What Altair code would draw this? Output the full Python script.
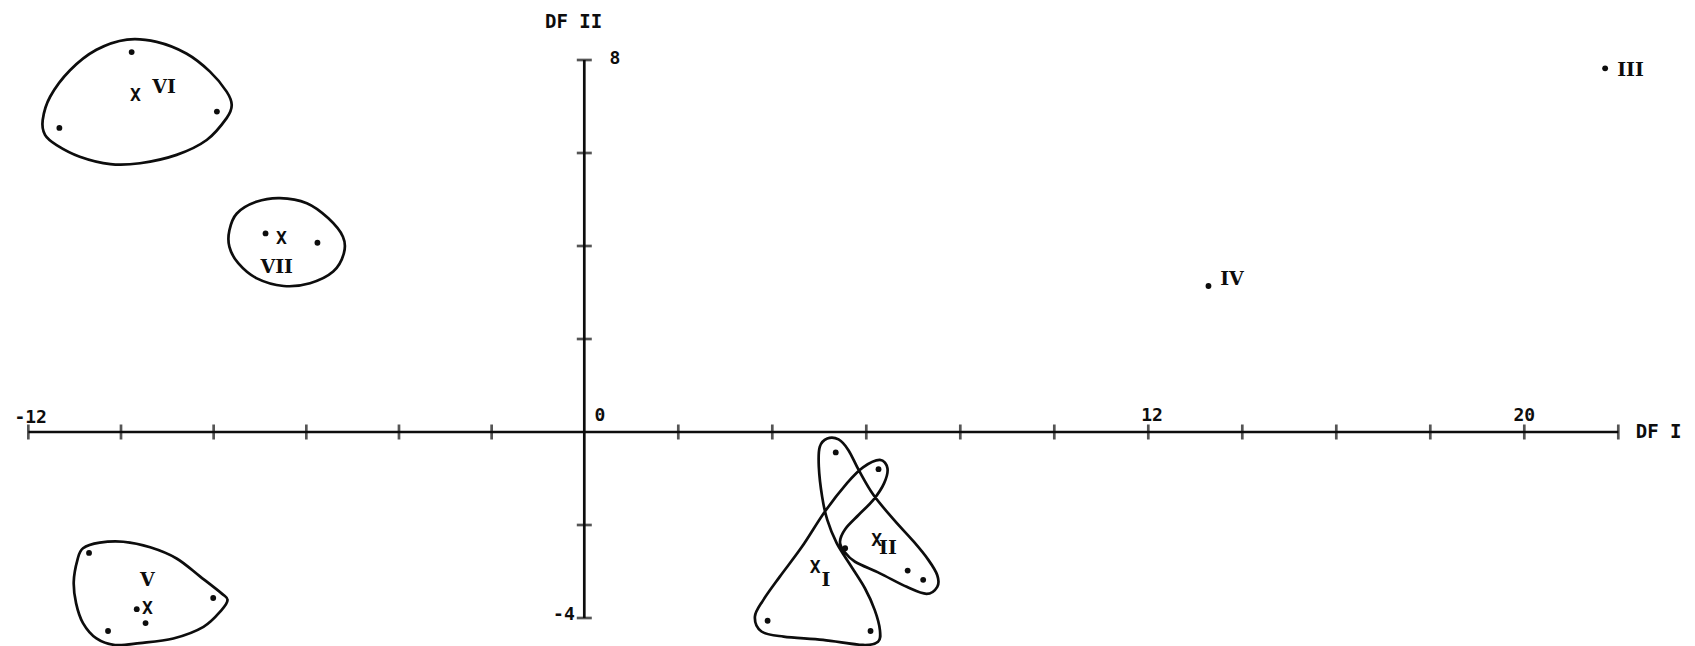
import altair as alt
import pandas as pd

# ---------------- data (DF I, DF II scores) ----------------
# individual specimens (dots)
dot_group = ["VI"] * 3 + ["VII"] * 2 + ["V"] * 5 + ["I/II"] * 7 + ["III", "IV"]
dot_df1 = [-9.77, -11.33, -7.93,
           -6.88, -5.76,
           -10.69, -8.01, -9.66, -9.47, -10.28,
           5.35, 6.26, 5.55, 6.88, 7.21, 3.90, 6.09,
           21.72, 13.28]
dot_df2 = [8.17, 6.54, 6.89,
           4.27, 4.07,
           -2.60, -3.57, -3.81, -4.11, -4.28,
           -0.44, -0.80, -2.50, -2.98, -3.18, -4.06, -4.28,
           7.82, 3.14]

# group centroids (X)
cen_group = ["VI", "VII", "V", "I", "II"]
cen_df1 = [-9.69, -6.54, -9.43, 4.91, 6.22]
cen_df2 = [7.23, 4.14, -3.81, -2.93, -2.34]

# group labels
lab_text = ["VI", "VII", "V", "I", "II", "III", "IV"]
lab_df1 = [-9.07, -6.64, -9.43, 5.14, 6.46, 22.26, 13.78]
lab_df2 = [7.42, 3.54, -3.18, -3.18, -2.50, 7.78, 3.28]

# hand-drawn group envelopes (closed outlines)
env_VI_x = [-11.69, -11.53, -11.10, -10.53, -9.87, -9.23, -8.59, -8.08, -7.72, -7.61,
            -7.72, -8.15, -8.80, -9.59, -10.23, -10.89, -11.39, -11.64]
env_VI_y = [6.71, 7.21, 7.78, 8.22, 8.44, 8.39, 8.14, 7.75, 7.32, 7.03,
            6.75, 6.28, 5.96, 5.78, 5.76, 5.92, 6.17, 6.39]
env_VII_x = [-7.66, -7.50, -7.08, -6.57, -5.99, -5.53, -5.21, -5.19, -5.42, -5.92,
             -6.49, -7.08, -7.47, -7.66]
env_VII_y = [4.34, 4.70, 4.95, 5.03, 4.92, 4.60, 4.20, 3.84, 3.45, 3.20,
             3.14, 3.31, 3.63, 3.98]
env_V_x = [-10.82, -10.46, -9.95, -9.37, -8.80, -8.29, -7.83, -7.70, -7.83, -8.22,
           -8.87, -9.59, -10.13, -10.53, -10.82, -10.97, -11.02, -10.94]
env_V_y = [-2.50, -2.38, -2.36, -2.48, -2.72, -3.11, -3.47, -3.61, -3.83, -4.19,
           -4.44, -4.54, -4.58, -4.44, -4.11, -3.68, -3.22, -2.75]
env_I_II_x = [6.29, 6.45, 6.38, 6.15, 5.84, 5.55, 5.44, 5.53, 5.76, 6.29,
              6.86, 7.28, 7.51, 7.51, 7.32, 7.01, 6.58, 6.15, 5.84, 5.62,
              5.41, 5.17, 5.01, 4.99, 5.06, 5.17, 5.37, 5.66, 5.97, 6.18,
              6.29, 6.25, 5.93, 5.08, 4.24, 3.77, 3.63, 3.81, 4.16, 4.63,
              5.12, 5.59, 5.93]
env_I_II_y = [-0.60, -0.78, -1.10, -1.46, -1.78, -2.09, -2.36, -2.57, -2.79, -3.04,
              -3.33, -3.48, -3.33, -3.08, -2.75, -2.36, -1.88, -1.35, -0.82, -0.39,
              -0.16, -0.14, -0.32, -0.75, -1.39, -1.89, -2.39, -2.86, -3.36, -3.83,
              -4.26, -4.51, -4.58, -4.47, -4.40, -4.29, -3.97, -3.61, -3.11, -2.47,
              -1.71, -1.10, -0.76]

# axes
x_axis_range = [-12, 22]
y_axis_range = [-4, 8]
x_ticks = [-12, -10, -8, -6, -4, -2, 2, 4, 6, 8, 10, 12, 14, 16, 18, 20, 22]
y_ticks = [-4, -2, 2, 4, 6, 8]
x_tick_labels = ["-12", "0", "12", "20"]
x_tick_label_x = [-11.95, 0.33, 12.08, 20.00]
x_tick_label_y = [0.31, 0.35, 0.34, 0.35]
y_tick_labels = ["8", "-4"]
y_tick_label_x = [0.65, -0.44]
y_tick_label_y = [8.02, -3.94]
x_title, x_title_pos = "DF I", (22.37, 0.0)
y_title, y_title_pos = "DF II", (-0.23, 8.82)

# ---------------- build tables ----------------
dots = pd.DataFrame({"g": dot_group, "x": dot_df1, "y": dot_df2})
cents = pd.DataFrame({"g": cen_group, "x": cen_df1, "y": cen_df2, "t": ["X"] * len(cen_group)})
labs = pd.DataFrame({"t": lab_text, "x": lab_df1, "y": lab_df2})

env_rows = []
for name, xs, ys in [("VI", env_VI_x, env_VI_y), ("VII", env_VII_x, env_VII_y),
                     ("V", env_V_x, env_V_y), ("I-II", env_I_II_x, env_I_II_y)]:
    for i, (a, b) in enumerate(zip(xs, ys)):
        env_rows.append({"shape": name, "i": i, "x": a, "y": b})
envs = pd.DataFrame(env_rows)

xaxis = pd.DataFrame({"x": [x_axis_range[0]], "x2": [x_axis_range[1]], "y": [0]})
yaxis = pd.DataFrame({"x": [0], "y": [y_axis_range[0]], "y2": [y_axis_range[1]]})
xt = pd.DataFrame({"x": x_ticks, "y": [0] * len(x_ticks)})
yt = pd.DataFrame({"x": [0] * len(y_ticks), "y": y_ticks})
xtl = pd.DataFrame({"t": x_tick_labels, "x": x_tick_label_x, "y": x_tick_label_y})
ytl = pd.DataFrame({"t": y_tick_labels, "x": y_tick_label_x, "y": y_tick_label_y})
titles_x = pd.DataFrame({"t": [x_title], "x": [x_title_pos[0]], "y": [x_title_pos[1]]})
titles_y = pd.DataFrame({"t": [y_title], "x": [y_title_pos[0]], "y": [y_title_pos[1]]})

# ---------------- scales (hand-drawn axis: left and right halves slightly different) ----------------
W, H = 1679, 638
X0 = 576.3
XD = [-X0 / 46.33, 0, (W - X0) / 47.0]
YD = [(424 - H) / 46.5, 424 / 46.5]
X = alt.X("x:Q", scale=alt.Scale(domain=XD, range=[0, X0, W], nice=False, zero=False), axis=None)
Y = alt.Y("y:Q", scale=alt.Scale(domain=YD, nice=False, zero=False), axis=None)
INK = "#0d0d0d"
LW = 2.7

axis_x = alt.Chart(xaxis).mark_rule(color=INK, strokeWidth=LW).encode(x=X, x2="x2:Q", y=Y)
axis_y = alt.Chart(yaxis).mark_rule(color=INK, strokeWidth=LW).encode(x=X, y=Y, y2="y2:Q")
ticks_x = alt.Chart(xt).mark_tick(orient="vertical", size=15, thickness=LW, color=INK).encode(x=X, y=Y)
ticks_y = alt.Chart(yt).mark_tick(orient="horizontal", size=15, thickness=LW, color=INK).encode(x=X, y=Y)

num_font = dict(font="DejaVu Sans Mono", fontWeight="bold", color=INK)
xlab = alt.Chart(xtl).mark_text(align="center", baseline="middle", fontSize=18, **num_font).encode(x=X, y=Y, text="t:N")
ylab = alt.Chart(ytl).mark_text(align="center", baseline="middle", fontSize=18, **num_font).encode(x=X, y=Y, text="t:N")
tx = alt.Chart(titles_x).mark_text(align="left", baseline="middle", fontSize=19, **num_font).encode(x=X, y=Y, text="t:N")
ty = alt.Chart(titles_y).mark_text(align="center", baseline="middle", fontSize=19, **num_font).encode(x=X, y=Y, text="t:N")

outlines = alt.Chart(envs).mark_line(interpolate="cardinal-closed", color=INK, strokeWidth=LW).encode(
    x=X, y=Y, detail="shape:N", order="i:Q")
points = alt.Chart(dots).mark_circle(size=34, color=INK, opacity=1).encode(x=X, y=Y)
centroids = alt.Chart(cents).mark_text(align="center", baseline="middle", fontSize=18,
                                       font="DejaVu Sans Mono", fontWeight="bold", color=INK).encode(
    x=X, y=Y, text="t:N")
labels = alt.Chart(labs).mark_text(align="center", baseline="middle", fontSize=19,
                                   font="DejaVu Serif", fontWeight="bold", color=INK).encode(
    x=X, y=Y, text="t:N")

chart = alt.layer(
    axis_x, axis_y, ticks_x, ticks_y, xlab, ylab, tx, ty,
    outlines, points, centroids, labels
).properties(
    width=W, height=H, padding=0, autosize=alt.AutoSizeParams(type="none"),
    background="white"
).configure_view(stroke=None)

chart.save("out.html", embed_options={"renderer": "svg", "actions": False})
